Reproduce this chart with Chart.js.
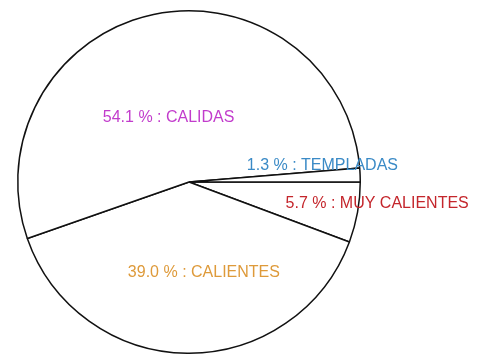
<!DOCTYPE html>
<html>
<head>
<meta charset="utf-8">
<script src="https://cdn.jsdelivr.net/npm/chart.js@4.4.0/dist/chart.umd.min.js"></script>
<style>
  body { margin: 0; background: #fff; }
</style>
</head>
<body>
<canvas id="pieChart" width="477" height="356"></canvas>
<script>
// slices, clockwise starting at 3 o'clock
var categories = ["MUY CALIENTES", "CALIENTES", "CALIDAS", "TEMPLADAS"];
var percents = [5.7, 39.0, 54.1, 1.3];
var labelColors = ["#c4262c", "#de9a3a", "#c23ccc", "#3a8ac6"];

// where each label sits, as a fraction of the radius from the centre
var labelSpots = [[1.099, 0.128], [0.087, 0.529], [-0.119, -0.375], [0.779, -0.093]];

var sliceLabels = {
  id: 'sliceLabels',
  afterDatasetsDraw: function(chart) {
    var ctx = chart.ctx;
    var arcs = chart.getDatasetMeta(0).data;
    ctx.save();
    ctx.font = '16px "Liberation Sans", Arial, sans-serif';
    ctx.textAlign = 'center';
    ctx.textBaseline = 'middle';
    arcs.forEach((arc, i) => {
      var r = arc.outerRadius;
      var x = arc.x + labelSpots[i][0] * r;
      var y = arc.y + labelSpots[i][1] * r;
      ctx.fillStyle = labelColors[i];
      ctx.fillText(percents[i].toFixed(1) + " % : " + categories[i], x, y);
    });
    ctx.restore();
  }
};

var ctxP = document.getElementById("pieChart").getContext('2d');
var myPieChart = new Chart(ctxP, {
  type: 'pie',
  data: {
    labels: categories,
    datasets: [{
      data: percents,
      backgroundColor: "#ffffff",
      borderColor: "#111111",
      borderWidth: 1.5,
      borderAlign: 'center'
    }]
  },
  options: {
    responsive: false,
    animation: false,
    rotation: 90,
    layout: { padding: { left: 17, right: 116, top: 10, bottom: 2 } },
    plugins: {
      legend: { display: false },
      tooltip: { enabled: false }
    }
  },
  plugins: [sliceLabels]
});
</script>
</body>
</html>
